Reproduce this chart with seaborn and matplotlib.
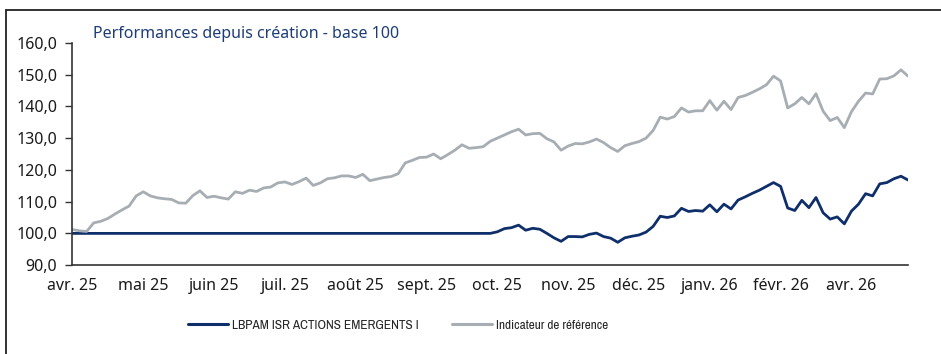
import matplotlib
matplotlib.use("Agg")
import matplotlib.pyplot as plt
from matplotlib.lines import Line2D
from matplotlib.ticker import FuncFormatter, FixedLocator
from matplotlib import font_manager
import seaborn as sns
import pandas as pd
import numpy as np

# Series names
FUND = "LBPAM ISR ACTIONS EMERGENTS I"
BENCH = "Indicateur de référence"

# Month labels shown every 10 observations
month_labels = ["avr. 25", "mai 25", "juin 25", "juil. 25", "août 25", "sept. 25",
                "oct. 25", "nov. 25", "déc. 25", "janv. 26", "févr. 26", "avr. 26"]
label_step = 10

# Base-100 performance of the benchmark
bench_values = [
    101.2, 100.8, 100.6, 103.3, 103.8, 104.7, 106.1, 107.4, 108.6, 111.8,
    113.1, 111.8, 111.2, 110.9, 110.7, 109.6, 109.5, 111.9, 113.4, 111.3,
    111.7, 111.2, 110.8, 113.1, 112.6, 113.6, 113.2, 114.3, 114.6, 115.9,
    116.2, 115.4, 116.3, 117.4, 115.1, 115.9, 117.2, 117.5, 118.1, 118.1,
    117.6, 118.6, 116.6, 117.1, 117.6, 117.9, 118.8, 122.2, 123.0, 123.9,
    124.0, 125.0, 123.5, 124.8, 126.2, 127.9, 126.8, 127.0, 127.3, 129.0,
    130.0, 131.0, 132.0, 132.8, 131.0, 131.4, 131.5, 129.8, 128.8, 126.2,
    127.5, 128.3, 128.2, 128.8, 129.7, 128.6, 127.0, 125.8, 127.6, 128.3,
    128.9, 130.0, 132.4, 136.6, 136.0, 136.8, 139.5, 138.2, 138.6, 138.6,
    141.8, 138.8, 141.6, 139.0, 142.8, 143.4, 144.4, 145.5, 146.8, 149.5,
    148.0, 139.5, 140.8, 142.8, 140.8, 144.0, 138.5, 135.5, 136.5, 133.3,
    138.3, 141.6, 144.2, 143.9, 148.6, 148.7, 149.6, 151.5, 149.5,
]

# Base-100 performance of the fund (flat before launch)
fund_values = [100.0] * 60 + [
    100.5, 101.5, 101.8, 102.6, 101.0, 101.6, 101.3, 100.0, 98.6, 97.5,
    99.0, 99.0, 98.9, 99.7, 100.1, 99.0, 98.5, 97.2, 98.6, 99.1,
    99.5, 100.4, 102.2, 105.4, 105.0, 105.5, 107.9, 106.9, 107.2, 107.0,
    109.0, 106.8, 109.2, 107.7, 110.5, 111.5, 112.6, 113.6, 114.8, 116.0,
    114.8, 108.0, 107.2, 110.4, 108.1, 111.3, 106.5, 104.5, 105.2, 103.0,
    107.0, 109.2, 112.5, 111.8, 115.6, 116.0, 117.2, 118.0, 116.8,
]

n = len(bench_values)
df = pd.DataFrame({
    "obs": list(range(n)) * 2,
    "valeur": fund_values + bench_values,
    "serie": [FUND] * n + [BENCH] * n,
})

NAVY = "#0f2f6b"
GREY = "#a7aeb3"
TITLE_BLUE = "#1e3d78"
TEXT = "#1a1a1a"
DPI = 100

sns.set_theme(style="white")
plt.rcParams["font.family"] = ["Noto Sans", "DejaVu Sans"]


def pick_narrow_font():
    """Return a FontProperties for a narrow/condensed regular face, if any."""
    best = None
    for f in font_manager.fontManager.ttflist:
        fname = f.fname.lower()
        name = f.name.lower()
        narrowish = ("narrow" in fname or "narrow" in name
                     or ("condensed" in fname and "extra" not in fname
                         and "semi" not in fname and "ultra" not in fname)
                     or f.stretch in ("condensed",))
        if not narrowish:
            continue
        if f.style != "normal" or f.weight not in (400, "normal", "regular"):
            continue
        rank = 0 if "narrow" in fname else 1
        if best is None or rank < best[0]:
            best = (rank, f.fname)
    if best:
        return font_manager.FontProperties(fname=best[1])
    return font_manager.FontProperties(family=["Roboto", "Noto Sans", "DejaVu Sans"])


fig = plt.figure(figsize=(9.41, 3.54), dpi=DPI)
ax = fig.add_axes([0.077, 0.251, 0.888, 0.628])

sns.lineplot(data=df, x="obs", y="valeur", hue="serie",
             hue_order=[FUND, BENCH], palette=[NAVY, GREY],
             linewidth=2.0, ax=ax, legend=False)

ax.set_xlim(0, n - 1)
ax.set_ylim(90, 160)
ax.set_xlabel("")
ax.set_ylabel("")

ax.yaxis.set_major_locator(FixedLocator(np.arange(90, 161, 10)))
ax.yaxis.set_major_formatter(FuncFormatter(lambda v, _: f"{v:.1f}".replace(".", ",")))
ax.set_xticks([i * label_step for i in range(len(month_labels))])
ax.set_xticklabels(month_labels)

ax.tick_params(axis="y", which="major", length=5, width=1.0, color="#333333",
               labelsize=11.5, labelcolor=TEXT, pad=6, left=True)
ax.tick_params(axis="x", which="major", length=0, labelsize=11.5,
               labelcolor=TEXT, pad=9)

for side in ["top", "right"]:
    ax.spines[side].set_visible(False)
for side in ["left", "bottom"]:
    ax.spines[side].set_color("#333333")
    ax.spines[side].set_linewidth(1.2)

fig.text(0.099, 0.905, "Performances depuis création - base 100",
         color=TITLE_BLUE, fontsize=11.5, ha="left", va="center")

# Legend font: size chosen so the fund label spans about 188 px
legend_font = pick_narrow_font()
legend_font.set_size(10)
probe = fig.text(0, 0, FUND, fontproperties=legend_font)
fig.canvas.draw()
w10 = probe.get_window_extent().width
probe.remove()
size = float(np.clip(10 * 188 / w10, 7.0, 11.0))
legend_font.set_size(size)
em_px = size * DPI / 72

handles = [Line2D([], [], color=NAVY, linewidth=2.2),
           Line2D([], [], color=GREY, linewidth=2.2)]
fig.legend(handles, [FUND, BENCH], loc="center", bbox_to_anchor=(0.423, 0.082),
           ncol=2, frameon=False, handlelength=40 / em_px,
           handletextpad=4 / em_px, columnspacing=33 / em_px, prop=legend_font)

# Partial frame around the chart block
fig.add_artist(Line2D([6 / 941, 1.0], [1 - 10 / 354, 1 - 10 / 354],
                      transform=fig.transFigure, color="#222222", linewidth=1.3))
fig.add_artist(Line2D([6 / 941, 6 / 941], [0.0, 1 - 10 / 354],
                      transform=fig.transFigure, color="#222222", linewidth=1.3))

fig.savefig("out.png", dpi=DPI, facecolor="white")
